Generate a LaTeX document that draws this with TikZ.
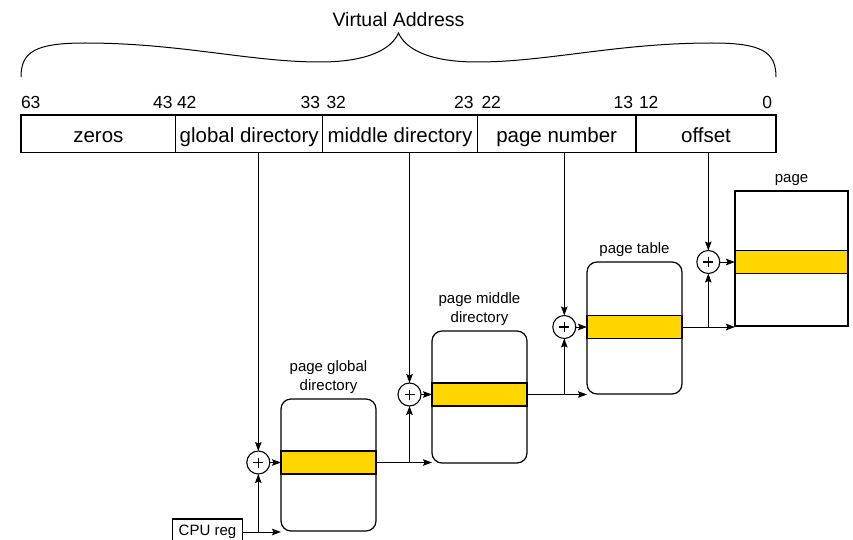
\documentclass[tikz,border=0pt]{standalone}
\usepackage{fontspec}
\setmainfont{Liberation Sans}
\usetikzlibrary{arrows.meta}
\definecolor{gold}{HTML}{FFD600}
\begin{document}
\begin{tikzpicture}[x=1pt,y=-1pt,
  every node/.style={inner sep=0pt, outer sep=0pt},
  arr/.style={line width=1pt, -{Stealth[length=9pt,width=6.5pt,inset=1.5pt]}},
  cell/.style={draw, line width=1.1pt, minimum height=37.5pt, text height=17.5pt, text depth=0pt,
    font=\fontsize{20.5}{24}\selectfont},
  num/.style={font=\fontsize{17.5}{20}\selectfont},
  tbl/.style={draw, line width=1.2pt, rounded corners=10pt, minimum width=95pt, minimum height=132pt},
  band/.style={draw, line width=1.2pt, fill=gold, minimum width=95pt, minimum height=23pt},
  lbl/.style={font=\fontsize{15}{19}\selectfont, align=center, anchor=south, yshift=5pt},
  plus/.style={circle, draw, line width=1.1pt, fill=white, minimum size=23pt,
    path picture={
      \draw[line width=1.6pt] ([xshift=-5pt]path picture bounding box.center) -- ([xshift=5pt]path picture bounding box.center);
      \draw[line width=1.6pt] ([yshift=-5pt]path picture bounding box.center) -- ([yshift=5pt]path picture bounding box.center);
    }}]
\useasboundingbox (0,0) rectangle (853,540);

% title and brace
\node[font=\fontsize{19.5}{22}\selectfont, anchor=base] (va) at (398.5,27) {Virtual Address};
\draw[line width=1pt] (21,77) .. controls (21,52) and (35,43) .. (85,43)
  .. controls (180,43) and (250,62) .. (320,62)
  .. controls (370,62) and (392,48) .. (398.5,33)
  .. controls (405,48) and (427,62) .. (477,62)
  .. controls (547,62) and (617,43) .. (712,43)
  .. controls (762,43) and (776,52) .. (776,77);

% address bar
\node[cell, minimum width=154.7pt] (z)   at (98.35,133.75)  {zeros};
\node[cell, minimum width=147pt]   (gd)  at (249.2,133.75)  {global directory};
\node[cell, minimum width=154.6pt] (md)  at (400,133.75)    {middle directory};
\node[cell, minimum width=158.7pt] (pn)  at (556.65,133.75) {page number};
\node[cell, minimum width=140pt]   (off) at (706,133.75)    {offset};

% bit numbers
\node[num, anchor=base west] (n63) at (21,108.5)  {63};
\node[num, anchor=base east] (n43) at (172.5,108.5) {43};
\node[num, anchor=base west] (n42) at (177,108.5) {42};
\node[num, anchor=base east] (n33) at (320,108.5) {33};
\node[num, anchor=base west] (n32) at (326.5,108.5) {32};
\node[num, anchor=base east] (n23) at (473.5,108.5) {23};
\node[num, anchor=base west] (n22) at (481.5,108.5) {22};
\node[num, anchor=base east] (n13) at (633,108.5) {13};
\node[num, anchor=base west] (n12) at (639,108.5) {12};
\node[num, anchor=base east] (n0)  at (772,108.5) {0};

% tables
\node[tbl] (t1) at (328.5,465) {};
\node[band] (b1) at (328.5,462.5) {};
\node[lbl] (l1) at (t1.north) {page global\\directory};

\node[tbl] (t2) at (479.5,397) {};
\node[band] (b2) at (479.5,394.5) {};
\node[lbl] (l2) at (t2.north) {page middle\\directory};

\node[tbl] (t3) at (634.5,328) {};
\node[band] (b3) at (634.5,327) {};
\node[lbl] (l3) at (t3.north) {page table};

\node[draw, line width=1.2pt, minimum width=113pt, minimum height=135pt] (t4) at (791.5,258.5) {};
\node[band, minimum width=113pt] (b4) at (791.5,262) {};
\node[lbl] (l4) at (t4.north) {page};

% CPU register
\node[draw, line width=1.1pt, minimum width=69.6pt, minimum height=26pt, text height=10.7pt, text depth=3.2pt,
  font=\fontsize{15}{18}\selectfont] (cpu) at (207.5,532) {CPU reg};

% adders
\node[plus] (p1) at (258.3,462.5) {};
\node[plus] (p2) at (409.5,394.5) {};
\node[plus] (p3) at (564.3,327) {};
\node[plus] (p4) at (708.3,262) {};

% connectors from address fields
\draw[arr] (gd.south -| p1) -- (p1);
\draw[arr] (md.south -| p2) -- (p2);
\draw[arr] (pn.south -| p3) -- (p3);
\draw[arr] (off.south -| p4) -- (p4);

% adder outputs into tables
\draw[arr] (p1) -- (b1);
\draw[arr] (p2) -- (b2);
\draw[arr] (p3) -- (b3);
\draw[arr] (p4) -- (b4);

% CPU reg base
\draw[arr] (cpu.east) -- (cpu.east -| t1.west);
\coordinate (j0) at (cpu.east -| p1);
\draw[arr] (j0) -- (p1);

% entries to next level
\draw[arr] (b1.east) -- (b1.east -| t2.west);
\coordinate (j1) at (b1.east -| p2);
\draw[arr] (j1) -- (p2);

\draw[arr] (b2.east) -- (b2.east -| t3.west);
\coordinate (j2) at (b2.east -| p3);
\draw[arr] (j2) -- (p3);

\draw[arr] (b3.east) -- (b3.east -| t4.west);
\coordinate (j3) at (b3.east -| p4);
\draw[arr] (j3) -- (p4);
\end{tikzpicture}
\end{document}
